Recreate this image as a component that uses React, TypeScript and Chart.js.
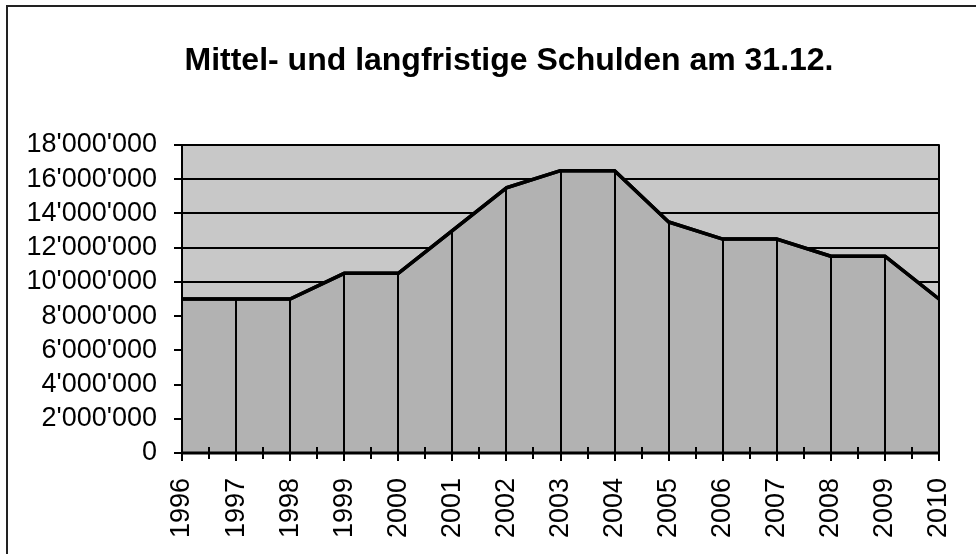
import React, { useEffect, useRef } from "react";
import { Chart, registerables } from "chart.js";

Chart.register(...registerables);

const chartTitle = "Mittel- und langfristige Schulden am 31.12.";
const years = ["1996", "1997", "1998", "1999", "2000", "2001", "2002", "2003", "2004", "2005", "2006", "2007", "2008", "2009", "2010"];
const debt = [9000000, 9000000, 9000000, 10500000, 10500000, 13000000, 15500000, 16500000, 16500000, 13500000, 12500000, 12500000, 11500000, 11500000, 9000000];
const yTickValues = [0, 2000000, 4000000, 6000000, 8000000, 10000000, 12000000, 14000000, 16000000, 18000000];

const BG = "#c8c8c8";
const AREA = "#b2b2b2";
const FONT = "'Liberation Sans', Arial, sans-serif";

function fmt(v: number): string {
  return String(v).replace(/\B(?=(\d{3})+(?!\d))/g, "'");
}

const decor = {
  id: "decor",
  beforeDraw(chart: any) {
    const { ctx, chartArea: a } = chart;
    ctx.save();
    ctx.fillStyle = "#ffffff";
    ctx.fillRect(0, 0, chart.width, chart.height);
    ctx.fillStyle = BG;
    ctx.fillRect(a.left, a.top, a.right - a.left, a.bottom - a.top);
    ctx.restore();
  },
  afterDatasetsDraw(chart: any) {
    const { ctx, chartArea: a } = chart;
    const meta = chart.getDatasetMeta(0);
    ctx.save();
    ctx.strokeStyle = "#000";
    ctx.lineWidth = 2;
    meta.data.forEach((p: any) => {
      ctx.beginPath();
      ctx.moveTo(Math.round(p.x), p.y);
      ctx.lineTo(Math.round(p.x), a.bottom);
      ctx.stroke();
    });
    ctx.lineWidth = 3.5;
    ctx.lineJoin = "round";
    ctx.beginPath();
    meta.data.forEach((p: any, i: number) => {
      if (i === 0) ctx.moveTo(p.x, p.y);
      else ctx.lineTo(p.x, p.y);
    });
    ctx.stroke();
    ctx.lineWidth = 2;
    ctx.strokeRect(a.left, a.top, a.right - a.left, a.bottom - a.top);
    ctx.lineWidth = 3;
    ctx.beginPath();
    ctx.moveTo(a.left, a.bottom);
    ctx.lineTo(a.right, a.bottom);
    ctx.stroke();
    const xs = chart.scales.x;
    ctx.lineWidth = 2;
    for (let i = 0; i < years.length; i++) {
      const x = Math.round(xs.getPixelForValue(i));
      ctx.beginPath();
      ctx.moveTo(x, a.bottom - 6);
      ctx.lineTo(x, a.bottom + 8);
      ctx.stroke();
      if (i < years.length - 1) {
        const xm = Math.round(xs.getPixelForValue(i + 0.5));
        ctx.beginPath();
        ctx.moveTo(xm, a.bottom - 6);
        ctx.lineTo(xm, a.bottom + 6);
        ctx.stroke();
      }
    }
    ctx.restore();
  },
  afterDraw(chart: any) {
    const { ctx } = chart;
    ctx.save();
    ctx.fillStyle = "#000";
    ctx.font = `bold 32px ${FONT}`;
    ctx.textAlign = "center";
    ctx.textBaseline = "middle";
    ctx.fillText(chartTitle, 509, 61);
    ctx.strokeStyle = "#222";
    ctx.lineWidth = 2;
    ctx.beginPath();
    ctx.moveTo(7, chart.height);
    ctx.lineTo(7, 6);
    ctx.lineTo(chart.width, 6);
    ctx.stroke();
    ctx.restore();
  },
};

export default function App() {
  const ref = useRef<HTMLCanvasElement | null>(null);
  useEffect(() => {
    if (!ref.current) return;
    const chart = new Chart(ref.current, {
      type: "line",
      data: {
        labels: years,
        datasets: [
          {
            data: debt,
            borderColor: "#000",
            borderWidth: 3.5,
            backgroundColor: AREA,
            fill: "origin",
            pointRadius: 0,
            tension: 0,
          },
        ],
      },
      options: {
        animation: false,
        responsive: false,
        devicePixelRatio: 1,
        layout: { padding: { top: 145, right: 37, left: 0, bottom: 0 } },
        plugins: {
          legend: { display: false },
          title: { display: false },
          tooltip: { enabled: false },
        },
        scales: {
          x: {
            type: "category",
            offset: false,
            grid: { display: false },
            border: { display: false },
            ticks: {
              minRotation: 90,
              maxRotation: 90,
              autoSkip: false,
              padding: 17,
              color: "#000",
              font: { family: FONT, size: 27 },
            },
            afterFit: (s: any) => {
              s.height = 101;
              s.paddingLeft = 0;
              s.paddingRight = 0;
            },
          },
          y: {
            min: 0,
            max: 18000000,
            grid: {
              display: true,
              color: "#000",
              lineWidth: 2,
              drawTicks: true,
              tickLength: 8,
              tickColor: "#000",
            },
            border: { display: false },
            ticks: {
              autoSkip: false,
              padding: 17,
              color: "#000",
              font: { family: FONT, size: 27 },
              callback: (v: any) => fmt(Number(v)),
            },
            afterBuildTicks: (s: any) => {
              s.ticks = yTickValues.map((v) => ({ value: v }));
            },
            afterFit: (s: any) => {
              s.width = 182;
              s.paddingTop = 0;
              s.paddingBottom = 0;
            },
          },
        },
      },
      plugins: [decor],
    });
    return () => chart.destroy();
  }, []);
  return (
    <div style={{ position: "absolute", left: 0, top: 0, width: 976, height: 554, background: "#fff" }}>
      <canvas ref={ref} width={976} height={554} style={{ display: "block", width: 976, height: 554 }} />
    </div>
  );
}
